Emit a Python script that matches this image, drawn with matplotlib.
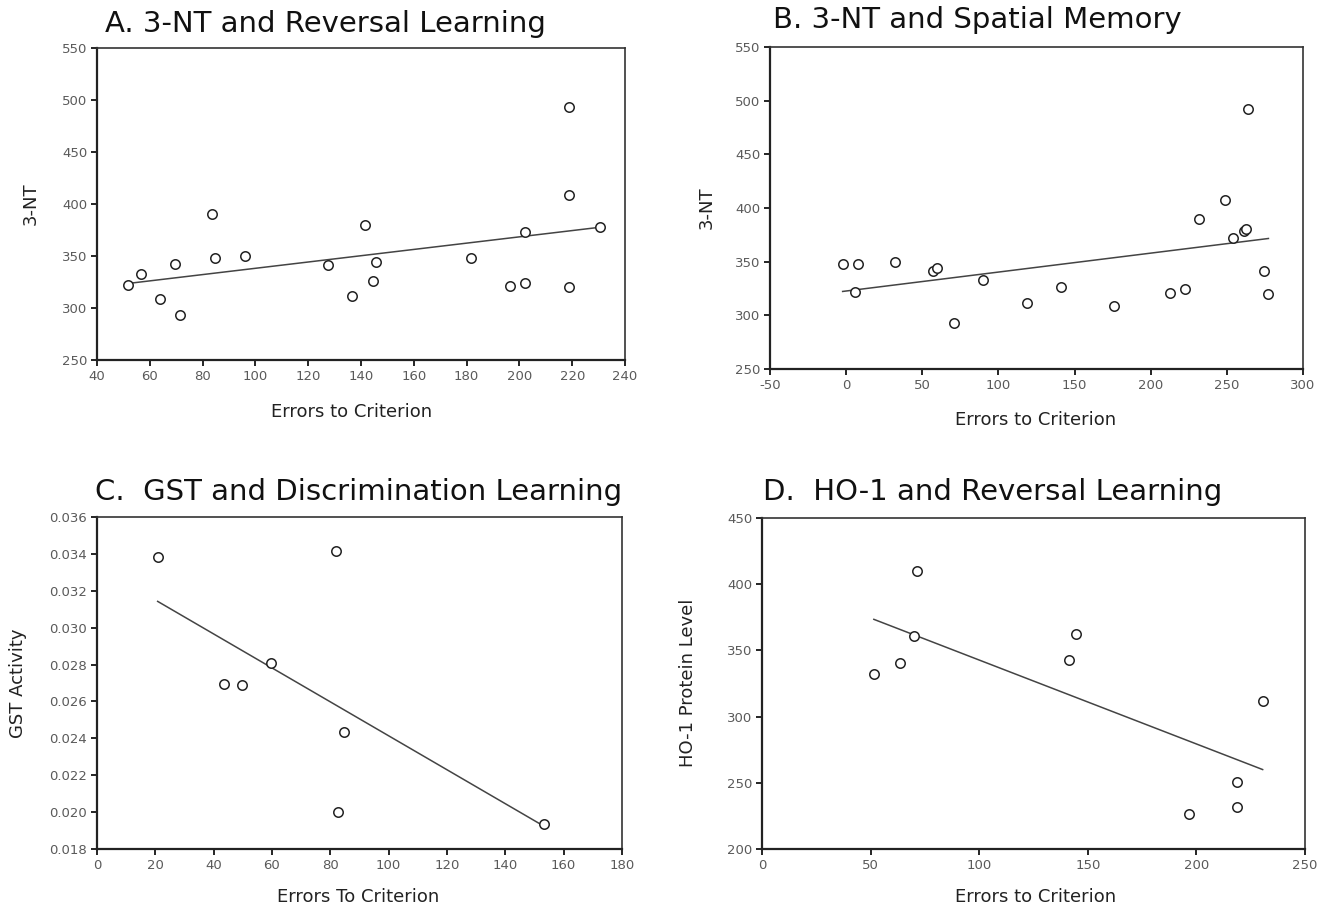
import numpy as np
import matplotlib
matplotlib.use('Agg')
import matplotlib.pyplot as plt

plt.rcParams['font.family'] = ['DejaVu Sans']
plt.rcParams['axes.unicode_minus'] = False

# A. 3-NT and reversal learning
a_err = [51.6, 56.7, 63.7, 69.5, 71.6, 83.5, 84.6, 96.2, 127.5, 136.7, 141.5,
         144.7, 145.8, 181.7, 196.6, 202.0, 202.0, 218.7, 218.7, 218.7, 230.6]
a_nt = [322, 333, 308.7, 342, 293.3, 390.5, 347.9, 349.8, 341.8, 311.3, 380,
        325.7, 344.3, 348.5, 320.9, 324.4, 372.9, 492.9, 408.2, 320.3, 378]

# B. 3-NT and spatial memory
b_err = [-2.3, 5.7, 8.0, 31.8, 57.1, 59.7, 71.0, 90.0, 119.0, 140.9, 176.1,
         212.8, 222.2, 231.5, 249.1, 254.3, 261.1, 262.5, 264.2, 274.1, 277.3]
b_nt = [348.1, 321.7, 347.5, 350, 341.3, 344.4, 292.9, 332.9, 311.2, 326.1, 309,
        320.8, 324.2, 390.1, 407.5, 372.4, 378.6, 380.4, 492.2, 341.3, 319.6]

# C. GST and discrimination learning
c_err = [20.8, 43.7, 49.7, 59.6, 81.8, 82.6, 84.7, 153.4]
c_gst = [0.03384, 0.02695, 0.02691, 0.02811, 0.03415, 0.02001, 0.02433, 0.01938]

# D. HO-1 and reversal learning
d_err = [51.5, 63.7, 69.8, 71.5, 141.5, 144.5, 196.5, 218.6, 218.6, 230.5]
d_ho1 = [331.9, 340.5, 360.7, 410.1, 342.8, 362.7, 226.5, 250.7, 231.5, 312]

W, H = 1334, 910
fig = plt.figure(figsize=(W / 100, H / 100), dpi=100)


def px_axes(x0, x1, y0, y1):
    # pixel box (left, right, top, bottom) -> figure axes
    return fig.add_axes([x0 / W, 1 - y1 / H, (x1 - x0) / W, (y1 - y0) / H])


def style(ax, xlim, xticks, ylim, yticks, yfmt=None):
    ax.set_xlim(xlim)
    ax.set_ylim(ylim)
    ax.set_xticks(xticks)
    ax.set_yticks(yticks)
    if yfmt:
        ax.set_yticklabels([yfmt % v for v in yticks])
    for s in ['left', 'bottom']:
        ax.spines[s].set_linewidth(1.6)
        ax.spines[s].set_color('#222222')
    for s in ['top', 'right']:
        ax.spines[s].set_linewidth(1.2)
        ax.spines[s].set_color('#333333')
    ax.tick_params(direction='out', length=4, width=1.2, labelsize=9.5,
                   labelcolor='#5a5a5a', pad=3)


def scatter_fit(ax, x, y):
    x = np.array(x)
    y = np.array(y)
    ax.plot(x, y, 'o', mfc='white', mec='#222222', mew=1.1, ms=6.8, zorder=3)
    p = np.polyfit(x, y, 1)
    xs = np.array([x.min(), x.max()])
    ax.plot(xs, np.polyval(p, xs), '-', color='#444444', lw=1.1, zorder=2)


axA = px_axes(97, 625, 48, 360)
scatter_fit(axA, a_err, a_nt)
style(axA, (40, 240), np.arange(40, 241, 20), (250, 550), np.arange(250, 551, 50))

axB = px_axes(770, 1303, 47, 369)
scatter_fit(axB, b_err, b_nt)
style(axB, (-50, 300), np.arange(-50, 301, 50), (250, 550), np.arange(250, 551, 50))

axC = px_axes(97, 622, 517, 849)
scatter_fit(axC, c_err, c_gst)
style(axC, (0, 180), np.arange(0, 181, 20), (0.018, 0.036),
      np.round(np.arange(0.018, 0.0361, 0.002), 3), yfmt='%.3f')

axD = px_axes(762, 1305, 518, 849)
scatter_fit(axD, d_err, d_ho1)
style(axD, (0, 250), np.arange(0, 251, 50), (200, 450), np.arange(200, 451, 50))


def ftext(x, y, s, **kw):
    fig.text(x / W, 1 - y / H, s, **kw)


tkw = dict(fontsize=21, va='center', ha='left', color='#111111')
ftext(105, 24, 'A. 3-NT and Reversal Learning', **tkw)
ftext(773, 20, 'B. 3-NT and Spatial Memory', **tkw)
ftext(95, 492, 'C.  GST and Discrimination Learning', **tkw)
ftext(763, 492, 'D.  HO-1 and Reversal Learning', **tkw)

xkw = dict(fontsize=13, ha='center', va='center', color='#222222')
ftext(352, 412, 'Errors to Criterion', **xkw)
ftext(1036, 420, 'Errors to Criterion', **xkw)
ftext(358, 897, 'Errors To Criterion', **xkw)
ftext(1036, 897, 'Errors to Criterion', **xkw)

ykw = dict(fontsize=13, ha='center', va='center', rotation=90, color='#222222')
ftext(31, 204, '3-NT', **ykw)
ftext(707, 208, '3-NT', **ykw)
ftext(18, 683, 'GST Activity', **ykw)
ftext(688, 683, 'HO-1 Protein Level', **ykw)

fig.savefig('out.png', dpi=100)
